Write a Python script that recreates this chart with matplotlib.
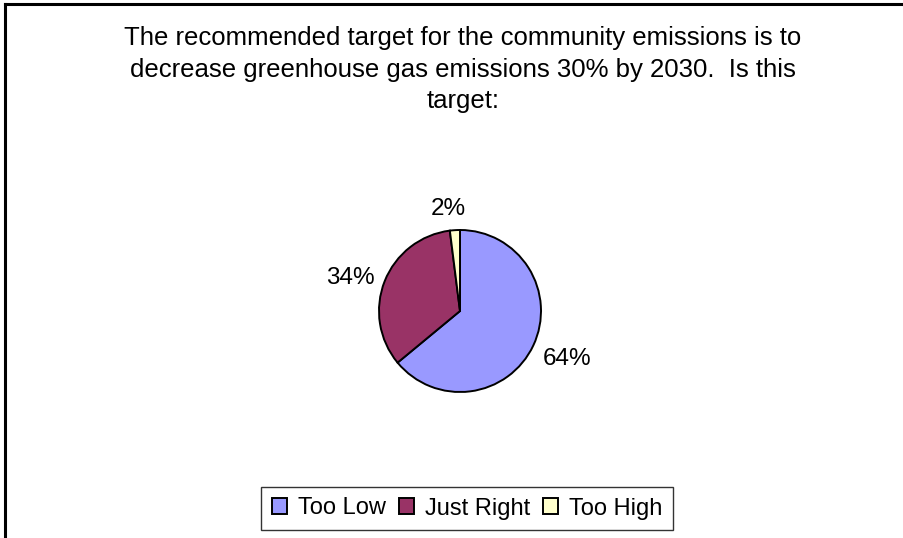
import matplotlib
matplotlib.use("Agg")
import numpy as np
import matplotlib.pyplot as plt
from matplotlib.lines import Line2D

categories = ["Too Low", "Just Right", "Too High"]
values = [64, 34, 2]
pct_labels = ["64%", "34%", "2%"]
colors = ["#9999FF", "#993366", "#FFFFCC"]
title = ("The recommended target for the community emissions is to\n"
         "decrease greenhouse gas emissions 30% by 2030.  Is this\n"
         "target:")

plt.rcParams['font.family'] = ['Liberation Sans', 'DejaVu Sans']

W, H = 904, 538
fig = plt.figure(figsize=(W / 100, H / 100), dpi=100)
fig.patch.set_facecolor("white")

# border (top and left visible, extends beyond right/bottom)
fig.add_artist(Line2D([5 / W, 5 / W], [0, 1 - 4 / H], transform=fig.transFigure,
                      color="black", lw=2.2, solid_capstyle="projecting"))
fig.add_artist(Line2D([5 / W, 1], [1 - 4 / H, 1 - 4 / H], transform=fig.transFigure,
                      color="black", lw=2.2, solid_capstyle="projecting"))

cx, cy, r = 460, 311, 81
half = r * 1.5
ax = fig.add_axes([(cx - half) / W, (H - cy - half) / H, 2 * half / W, 2 * half / H])
wedges, texts = ax.pie(values, labels=pct_labels, colors=colors, startangle=90,
                       counterclock=False, labeldistance=1.4,
                       wedgeprops=dict(edgecolor="black", linewidth=1.4),
                       textprops=dict(fontsize=17.5, color="black"))
# per-label placement (Excel-style best-fit): distance factor and angle nudge
label_dist = [1.44, 1.43, 1.30]
label_nudge = [2.0, 3.5, 2.6]
for w, t, d, n in zip(wedges, texts, label_dist, label_nudge):
    ang = np.deg2rad((w.theta1 + w.theta2) / 2 + n)
    t.set_position((d * np.cos(ang), d * np.sin(ang)))
    t.set_ha("center")
    t.set_va("center_baseline")
ax.set_xlim(-1.5, 1.5)
ax.set_ylim(-1.5, 1.5)
ax.set_aspect("equal")
ax.axis("off")

fig.text(463 / W, 1 - 108 / H, title, ha="center", va="baseline", fontsize=18.5,
         linespacing=1.385)

leg = fig.legend(wedges, categories, loc="center", bbox_to_anchor=(467 / W, 1 - 508.5 / H),
                 ncol=3, fontsize=17, frameon=True, fancybox=False,
                 handlelength=0.65, handleheight=0.65, handletextpad=0.45,
                 columnspacing=0.55, borderpad=0.45, borderaxespad=0)
leg.get_frame().set_edgecolor("black")
leg.get_frame().set_linewidth(1.0)

fig.savefig("out.png", dpi=100)
